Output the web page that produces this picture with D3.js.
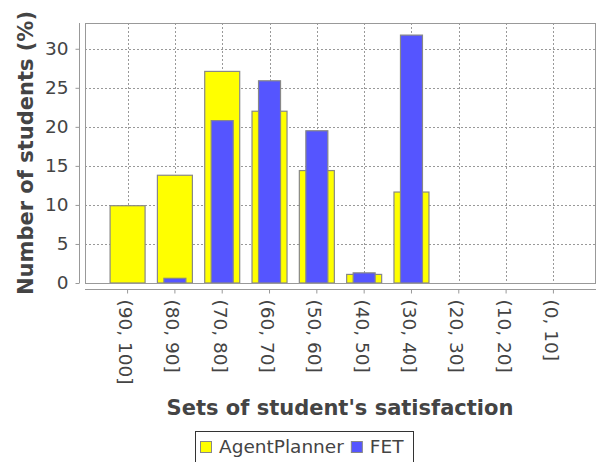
<!DOCTYPE html>
<html>
<head>
<meta charset="utf-8">
<script src="https://cdn.jsdelivr.net/npm/d3@7"></script>
<style>
  body { margin: 0; background: #fff; }
  svg { font-family: "DejaVu Sans", sans-serif; }
</style>
</head>
<body>
<div id="chart"></div>
<script>
const categories = ['(90, 100]', '(80, 90]', '(70, 80]', '(60, 70]', '(50, 60]',
                    '(40, 50]', '(30, 40]', '(20, 30]', '(10, 20]', '(0, 10]'];
const agentPlanner = [9.9, 13.8, 27.1, 22.0, 14.4, 1.1, 11.65, 0, 0, 0];
const fet          = [0, 0.6, 20.8, 25.9, 19.5, 1.3, 31.75, 0, 0, 0];
const yTicks = [0, 5, 10, 15, 20, 25, 30];

const W = 598, H = 462;
const plot = { left: 85, right: 596, top: 23, bottom: 283 };

const svg = d3.select('#chart').append('svg')
  .attr('width', W).attr('height', H);

const x = d3.scaleBand()
  .domain(categories)
  .range([plot.left, plot.right])
  .paddingInner(0)
  .paddingOuter(0.4);

const y = d3.scaleLinear()
  .domain([0, 33.3])
  .range([plot.bottom, plot.top]);

// grid
const grid = svg.append('g')
  .attr('stroke', '#999')
  .attr('stroke-dasharray', '2,2')
  .attr('stroke-width', 1);

grid.selectAll('line.h')
  .data(yTicks)
  .join('line')
  .attr('x1', plot.left).attr('x2', plot.right)
  .attr('y1', d => Math.round(y(d)) + 0.5).attr('y2', d => Math.round(y(d)) + 0.5);

grid.selectAll('line.v')
  .data(categories)
  .join('line')
  .attr('y1', plot.top).attr('y2', plot.bottom)
  .attr('x1', d => Math.round(x(d) + x.bandwidth() / 2) + 0.5)
  .attr('x2', d => Math.round(x(d) + x.bandwidth() / 2) + 0.5);

// bars: AgentPlanner wide behind, FET narrow in front
const mid = d => x(d) + x.bandwidth() / 2;
const wideW = 35, narrowW = 22;

svg.append('g').selectAll('rect')
  .data(categories.map((c, i) => ({ c, v: agentPlanner[i] })).filter(d => d.v > 0))
  .join('rect')
  .attr('x', d => mid(d.c) - wideW / 2)
  .attr('y', d => y(d.v))
  .attr('width', wideW)
  .attr('height', d => y(0) - y(d.v))
  .attr('fill', '#ffff00')
  .attr('stroke', '#888')
  .attr('stroke-width', 1.2);

svg.append('g').selectAll('rect')
  .data(categories.map((c, i) => ({ c, v: fet[i] })).filter(d => d.v > 0))
  .join('rect')
  .attr('x', d => mid(d.c) - narrowW / 2)
  .attr('y', d => y(d.v))
  .attr('width', narrowW)
  .attr('height', d => y(0) - y(d.v))
  .attr('fill', '#5555ff')
  .attr('stroke', '#888')
  .attr('stroke-width', 1.2);

// plot outline
svg.append('rect')
  .attr('x', plot.left + 0.5).attr('y', plot.top + 0.5)
  .attr('width', plot.right - plot.left - 1).attr('height', plot.bottom - plot.top)
  .attr('fill', 'none')
  .attr('stroke', '#999');

// y axis
const yAxis = svg.append('g')
  .attr('transform', 'translate(79.5,0)')
  .call(d3.axisLeft(y).tickValues(yTicks).tickSize(4).tickPadding(7));
yAxis.select('.domain').attr('stroke', '#999').attr('d', `M0,${plot.top}V${plot.bottom}`);
yAxis.selectAll('.tick line').attr('stroke', '#999');
yAxis.selectAll('.tick text')
  .attr('fill', '#444')
  .style('font-size', '18.5px')
  .style('font-family', '"DejaVu Sans", sans-serif');

// x axis
const xAxis = svg.append('g')
  .attr('transform', 'translate(0,289.5)')
  .call(d3.axisBottom(x).tickSize(4).tickSizeOuter(0));
xAxis.select('.domain').attr('stroke', '#999').attr('d', `M${plot.left},0H${plot.right}`);
xAxis.selectAll('.tick line').attr('stroke', '#999');
xAxis.selectAll('.tick text')
  .attr('fill', '#444')
  .style('font-size', '18.5px')
  .style('font-family', '"DejaVu Sans", sans-serif')
  .attr('text-anchor', 'start')
  .attr('transform', 'rotate(90)')
  .attr('x', 10)
  .attr('y', 2)
  .attr('dy', '0.35em');

// axis titles
svg.append('text')
  .attr('transform', `translate(33,${(plot.top + plot.bottom) / 2}) rotate(-90)`)
  .attr('text-anchor', 'middle')
  .attr('fill', '#444')
  .style('font-size', '21px')
  .style('font-weight', 'bold')
  .text('Number of students (%)');

svg.append('text')
  .attr('x', 340).attr('y', 415)
  .attr('text-anchor', 'middle')
  .attr('fill', '#444')
  .style('font-size', '21px')
  .style('font-weight', 'bold')
  .text("Sets of student's satisfaction");

// legend
const legendItems = [
  { name: 'AgentPlanner', color: '#ffff00' },
  { name: 'FET', color: '#5555ff' }
];
const lg = svg.append('g');
lg.append('rect')
  .attr('x', 195.5).attr('y', 431.5)
  .attr('width', 218).attr('height', 40)
  .attr('fill', '#fff')
  .attr('stroke', '#333');

let lx = 200;
legendItems.forEach(item => {
  lg.append('rect')
    .attr('x', lx + 0.5).attr('y', 441.5)
    .attr('width', 11).attr('height', 11)
    .attr('fill', item.color)
    .attr('stroke', '#888');
  const t = lg.append('text')
    .attr('x', lx + 19).attr('y', 453)
    .attr('fill', '#444')
    .style('font-size', '18.5px')
    .text(item.name);
  lx += 19 + t.node().getComputedTextLength() + 7;
});
</script>
</body>
</html>
